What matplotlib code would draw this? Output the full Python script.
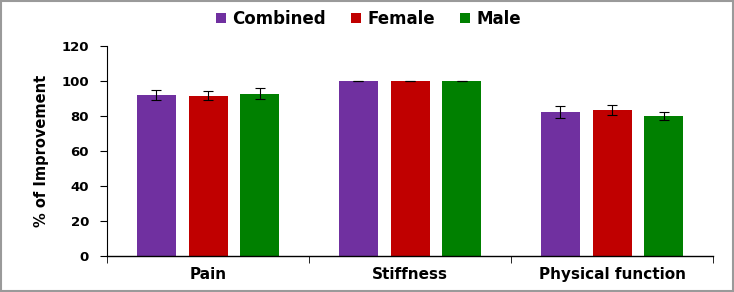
import matplotlib.pyplot as plt
import numpy as np

categories = ["Pain", "Stiffness", "Physical function"]
series = ["Combined", "Female", "Male"]
combined = [92.0, 100.0, 82.3]
female = [91.6, 100.0, 83.2]
male = [92.8, 100.0, 79.8]
combined_err = [3.0, 0.0, 3.2]
female_err = [2.6, 0.0, 2.9]
male_err = [3.1, 0.0, 2.2]
colors = ["#7030A0", "#C00000", "#008000"]

fig = plt.figure(figsize=(7.34, 2.92), dpi=100)
ax = fig.add_axes([0.1458, 0.1233, 0.8256, 0.7192])

x = np.arange(len(categories))
width = 0.193
step = 0.257
values = [combined, female, male]
errs = [combined_err, female_err, male_err]
for i in range(3):
    ax.bar(x + (i - 1) * step, values[i], width, color=colors[i], label=series[i],
           yerr=errs[i], capsize=3.5, error_kw=dict(elinewidth=0.8, capthick=0.8, ecolor="black"))

ax.set_xlim(-0.5, 2.5)
ax.set_ylim(0, 120)
ax.set_yticks(range(0, 121, 20))
ax.set_xticks(x)
ax.set_xticklabels(categories, fontsize=11, fontweight="bold", family="DejaVu Sans")
ax.set_xticks([-0.5, 0.5, 1.5, 2.5], minor=True)
ax.tick_params(axis="x", which="major", length=0, pad=8)
ax.tick_params(axis="x", which="minor", length=5, direction="out")
ax.tick_params(axis="y", length=5, direction="out", labelsize=9.5, pad=8)
for lab in ax.get_yticklabels():
    lab.set_fontweight("bold")
    lab.set_family("DejaVu Sans")
ax.spines["top"].set_visible(False)
ax.spines["right"].set_visible(False)
ax.spines["left"].set_linewidth(0.8)
ax.spines["bottom"].set_linewidth(1.0)

ax.set_ylabel("% of Improvement", fontsize=10.5, fontweight="bold",
              family="DejaVu Sans", labelpad=9)

fig.legend(loc="center", bbox_to_anchor=(0.502, 0.935), ncol=3, frameon=False,
           prop=dict(size=12, weight="bold", family="DejaVu Sans"),
           handlelength=0.6, handleheight=0.6, handletextpad=0.4, columnspacing=1.5)

border = plt.Rectangle((0.001, 0.002), 0.997, 0.995, transform=fig.transFigure,
                       fill=False, edgecolor="#9a9a9a", linewidth=1.5)
fig.patches.append(border)

fig.savefig("out.png", dpi=100)
